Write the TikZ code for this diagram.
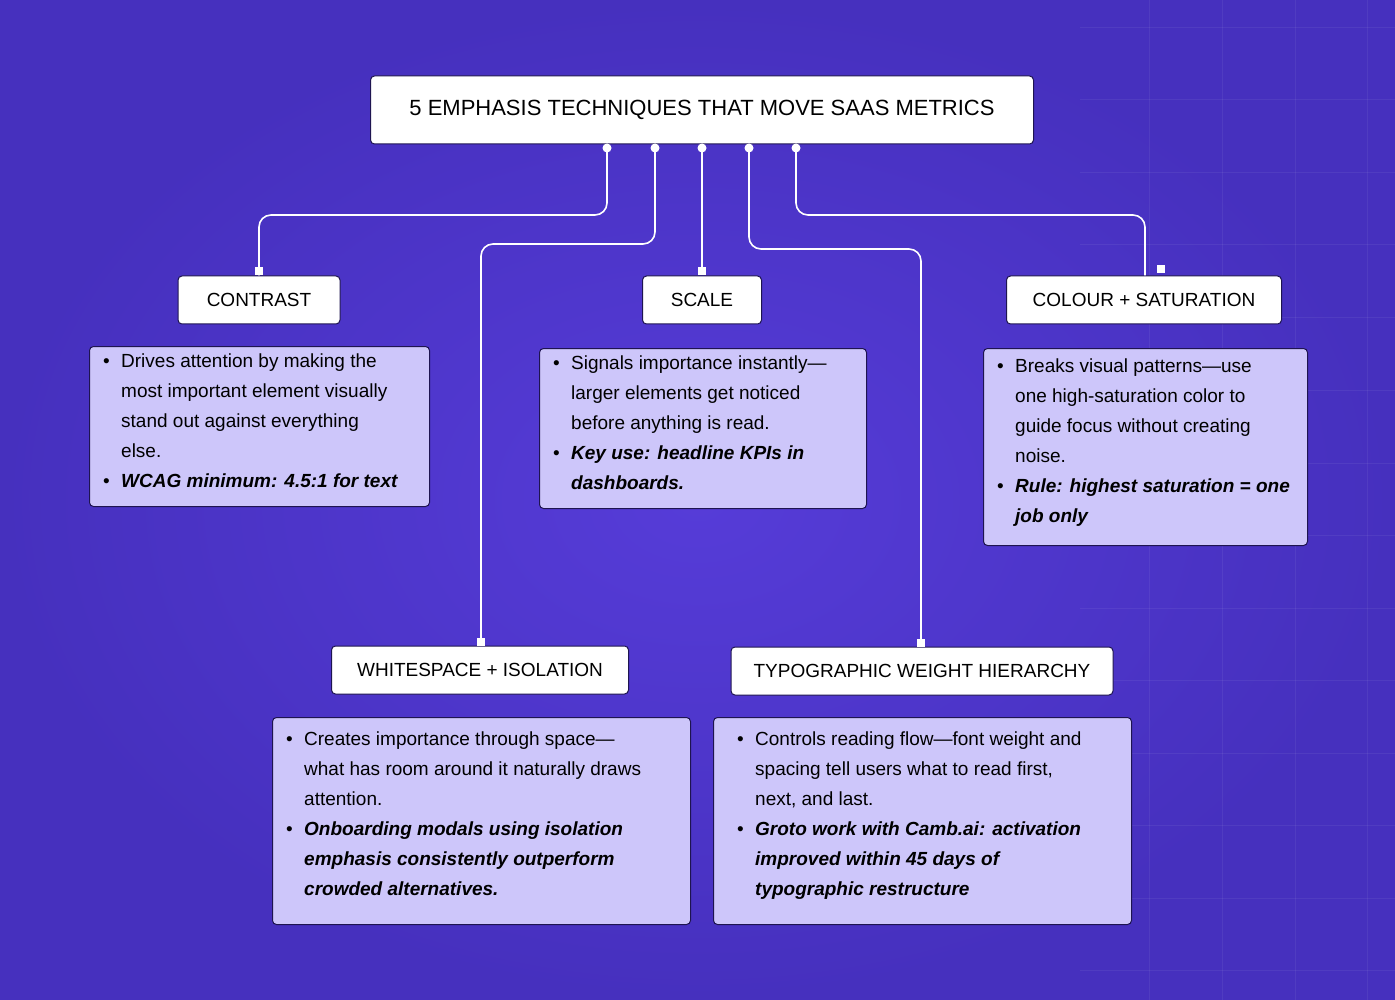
\documentclass[tikz,border=0pt]{standalone}
\usepackage{fontspec}
\setmainfont{Liberation Sans}
\usetikzlibrary{calc}
\definecolor{bgmid}{HTML}{563CD8}
\definecolor{bgout}{HTML}{4630BE}
\definecolor{lav}{HTML}{CDC6FA}
\definecolor{edge}{HTML}{1E1450}
\newcommand{\bl}{\makebox[18pt][l]{\textbullet}}
\newcommand{\ind}{\hspace*{18pt}}
\tikzset{
  head/.style={draw=edge, line width=1pt, fill=white, rounded corners=4pt, minimum height=48pt, font=\fontsize{19}{22}\selectfont},
  desc/.style={draw=edge, line width=1pt, fill=lav, rounded corners=4pt, anchor=north west},
  body/.style={anchor=north west, inner sep=0pt, align=left, font=\fontsize{19}{30}\selectfont},
  wire/.style={white, line width=1.6pt, rounded corners=12pt},
  grid line/.style={white, opacity=0.06, line width=1pt}
}
\begin{document}
\begin{tikzpicture}[x=1pt, y=-1pt]
\useasboundingbox (0,0) rectangle (1395,1000);
% background
\shade[inner color=bgmid, outer color=bgout] (0,0) rectangle (1395,1000);
\foreach \gx in {1149,1222,1295,1367} \draw[grid line] (\gx,0) -- (\gx,1000);
\foreach \gy in {28,100,173,245,318,390,463,535,608,680,753,825,898,970} \draw[grid line] (1080,\gy) -- (1395,\gy);
% title
\node[head, minimum width=663pt, minimum height=68pt, font=\fontsize{22}{26}\selectfont] (title) at (702,110) {5 EMPHASIS TECHNIQUES THAT MOVE SAAS METRICS};
% heads
\node[head, minimum width=162pt] (contrast) at (259,300) {CONTRAST};
\node[head, minimum width=119pt] (scale) at (702,300) {SCALE};
\node[head, minimum width=275pt] (colour) at (1144,300) {COLOUR + SATURATION};
\node[head, minimum width=297pt] (white) at (480,670) {WHITESPACE + ISOLATION};
\node[head, minimum width=382pt] (typo) at (922,671) {TYPOGRAPHIC WEIGHT HIERARCHY};
% descriptions
\node[desc, minimum width=340pt, minimum height=160pt] (contrastd) at (89,346) {};
\node[body] at ($(contrastd.north west)+(14,8)$) {\bl Drives attention by making the\\ \ind most important element visually\\ \ind stand out against everything\\ \ind else.\\ \bl\textbf{\textit{WCAG minimum: 4.5:1 for text}}};
\node[desc, minimum width=327pt, minimum height=160pt] (scaled) at (539,348) {};
\node[body] at ($(scaled.north west)+(14,8)$) {\bl Signals importance instantly---\\ \ind larger elements get noticed\\ \ind before anything is read.\\ \bl\textbf{\textit{Key use: headline KPIs in}}\\ \ind\textbf{\textit{dashboards.}}};
\node[desc, minimum width=324pt, minimum height=197pt] (colourd) at (983,348) {};
\node[body] at ($(colourd.north west)+(14,11)$) {\bl Breaks visual patterns---use\\ \ind one high-saturation color to\\ \ind guide focus without creating\\ \ind noise.\\ \bl\textbf{\textit{Rule: highest saturation = one}}\\ \ind\textbf{\textit{job only}}};
\node[desc, minimum width=418pt, minimum height=207pt] (whited) at (272,717) {};
\node[body] at ($(whited.north west)+(14,15)$) {\bl Creates importance through space---\\ \ind what has room around it naturally draws\\ \ind attention.\\ \bl\textbf{\textit{Onboarding modals using isolation}}\\ \ind\textbf{\textit{emphasis consistently outperform}}\\ \ind\textbf{\textit{crowded alternatives.}}};
\node[desc, minimum width=418pt, minimum height=207pt] (typod) at (713,717) {};
\node[body] at ($(typod.north west)+(24,15)$) {\bl Controls reading flow---font weight and\\ \ind spacing tell users what to read first,\\ \ind next, and last.\\ \bl\textbf{\textit{Groto work with Camb.ai: activation}}\\ \ind\textbf{\textit{improved within 45 days of}}\\ \ind\textbf{\textit{typographic restructure}}};
% connectors
\coordinate (p1) at (607,148);
\coordinate (p2) at (655,148);
\coordinate (p3) at (702,148);
\coordinate (p4) at (749,148);
\coordinate (p5) at (796,148);
\draw[wire] (p1) -- (607,215) -- (259,215) -- (contrast.north);
\draw[wire] (p2) -- (655,244) -- (481,244) -- (white.north-|481,0);
\draw[wire] (p3) -- (scale.north);
\draw[wire] (p4) -- (749,249) -- (921,249) -- (typo.north-|921,0);
\draw[wire] (p5) -- (796,215) -- (1145,215) -- (colour.north-|1145,0);
\foreach \p in {p1,p2,p3,p4,p5} \fill[white] (\p) circle (4.5pt);
\fill[white] ($(contrast.north)+(-4,-8)$) rectangle ++(8,8);
\fill[white] ($(scale.north)+(-4,-8)$) rectangle ++(8,8);
\fill[white] ($(colour.north)+(13,-10)$) rectangle ++(8,8);
\fill[white] ($(white.north-|481,0)+(-4,-8)$) rectangle ++(8,8);
\fill[white] ($(typo.north-|921,0)+(-4,-8)$) rectangle ++(8,8);
\end{tikzpicture}
\end{document}
